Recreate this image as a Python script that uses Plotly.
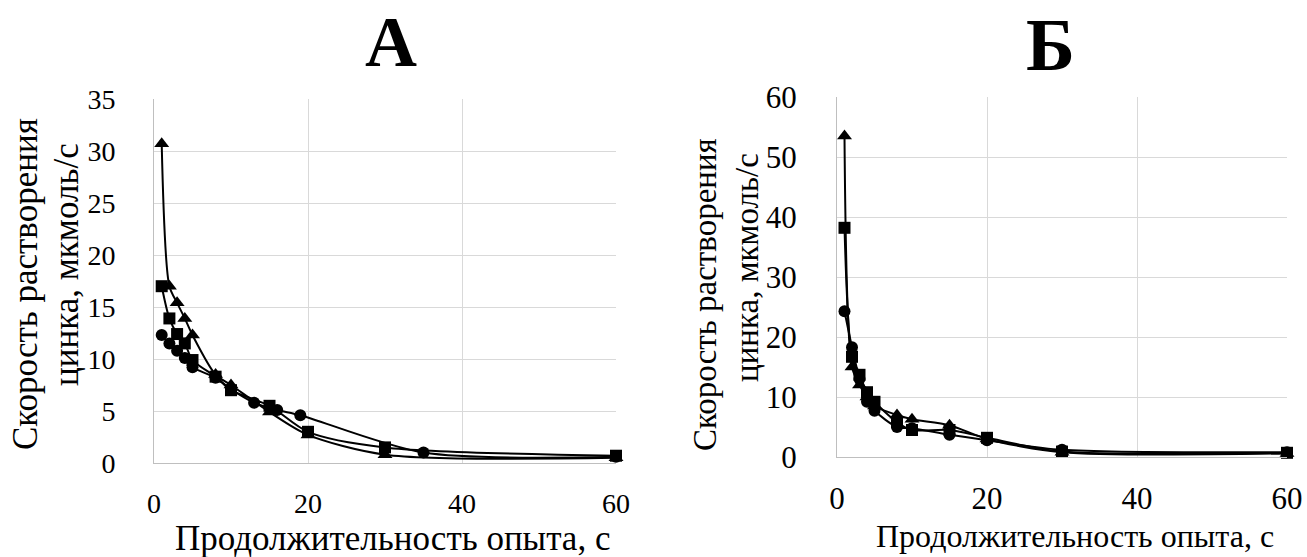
import plotly.graph_objects as go

# ---- Data: panel А ----
a_tri_x = [1, 2, 3, 4, 5, 8, 10, 15, 20, 30, 60]
a_tri_y = [30.7, 17.0, 15.4, 13.9, 12.3, 8.5, 7.5, 4.9, 2.7, 0.8, 0.5]
a_sq_x = [1, 2, 3, 4, 5, 8, 10, 15, 20, 30, 60]
a_sq_y = [17.0, 13.9, 12.4, 11.5, 9.9, 8.3, 7.0, 5.5, 3.0, 1.5, 0.7]
a_ci_x = [1, 2, 3, 4, 5, 8, 10, 13, 16, 19, 35, 60]
a_ci_y = [12.3, 11.5, 10.8, 10.1, 9.2, 8.2, 7.1, 5.8, 5.1, 4.6, 1.0, 0.6]

# ---- Data: panel Б ----
b_tri_x = [1, 2, 3, 4, 5, 8, 10, 15, 20, 30, 60]
b_tri_y = [53.5, 15.0, 12.0, 10.0, 8.5, 7.0, 6.3, 5.3, 3.0, 0.8, 0.6]
b_sq_x = [1, 2, 3, 4, 5, 8, 10, 15, 20, 30, 60]
b_sq_y = [38.2, 16.7, 13.7, 10.8, 9.2, 5.8, 4.5, 4.5, 3.2, 0.9, 0.7]
b_ci_x = [1, 2, 3, 4, 5, 8, 10, 15, 20, 30, 60]
b_ci_y = [24.3, 18.3, 13.0, 9.2, 7.7, 5.0, 4.8, 3.7, 2.8, 1.2, 0.8]

x_ticks = [0, 20, 40, 60]
a_y_ticks = [0, 5, 10, 15, 20, 25, 30, 35]
b_y_ticks = [0, 10, 20, 30, 40, 50, 60]

panel_titles = ["А", "Б"]
x_title = "Продолжительность опыта, с"
y_title_lines = ["Скорость растворения", "цинка, мкмоль/с"]

W, H = 1307, 557
FONT = "Liberation Serif"

fig = go.Figure()

def add_series(x, y, symbol, size, xa, ya):
    fig.add_trace(go.Scatter(
        x=x, y=y, mode="lines+markers",
        line=dict(color="black", width=2, shape="spline", smoothing=0.8),
        marker=dict(symbol=symbol, size=size, color="black"),
        cliponaxis=False, showlegend=False, xaxis=xa, yaxis=ya))

for xa, ya, data in [
    ("x", "y", [(a_ci_x, a_ci_y), (a_sq_x, a_sq_y), (a_tri_x, a_tri_y)]),
    ("x2", "y2", [(b_ci_x, b_ci_y), (b_sq_x, b_sq_y), (b_tri_x, b_tri_y)]),
]:
    (cx, cy), (sx, sy), (tx, ty) = data
    add_series(cx, cy, "circle", 12, xa, ya)
    add_series(sx, sy, "square", 12, xa, ya)
    add_series(tx, ty, "triangle-up", 13, xa, ya)

def px_x(p):
    return p / W

def px_y(p):
    return (H - p) / H

grid = "#d9d9d9"

def axis_style(size):
    return dict(
        showgrid=True, gridcolor=grid, gridwidth=1, automargin=False,
        zeroline=False, showline=True, linecolor="#bfbfbf", linewidth=1,
        ticks="", tickfont=dict(family=FONT, size=size, color="black"),
    )

fig.update_layout(
    template="none",
    width=W, height=H,
    margin=dict(l=0, r=0, t=0, b=0, pad=0),
    paper_bgcolor="white", plot_bgcolor="white",
    font=dict(family=FONT, color="black"),
    xaxis=dict(domain=[px_x(154), px_x(616)], range=[0, 60], tickvals=x_ticks,
               anchor="y", ticklabelstandoff=15, **axis_style(28)),
    yaxis=dict(domain=[px_y(463), px_y(99)], range=[0, 35], tickvals=a_y_ticks,
               anchor="x", ticklabelstandoff=32, **axis_style(28)),
    xaxis2=dict(domain=[px_x(837), px_x(1287)], range=[0, 60], tickvals=x_ticks,
                anchor="y2", ticklabelstandoff=14, **axis_style(31)),
    yaxis2=dict(domain=[px_y(457), px_y(97)], range=[0, 60], tickvals=b_y_ticks,
                anchor="x2", ticklabelstandoff=33, **axis_style(31)),
)

ann = []
# panel titles
ann.append(dict(text="<b>%s</b>" % panel_titles[0], x=px_x(391), y=px_y(42),
                font=dict(family=FONT, size=72, color="black")))
ann.append(dict(text="<b>%s</b>" % panel_titles[1], x=px_x(1050), y=px_y(45),
                font=dict(family=FONT, size=74, color="black")))
# x titles
ann.append(dict(text=x_title, x=px_x(392), y=px_y(538),
                font=dict(family=FONT, size=35, color="black")))
ann.append(dict(text=x_title, x=px_x(1075), y=px_y(536),
                font=dict(family=FONT, size=32, color="black")))
# y titles (two separate lines for tighter line spacing)
ann.append(dict(text=y_title_lines[0], x=px_x(25), y=px_y(284), textangle=-90,
                font=dict(family=FONT, size=35, color="black")))
ann.append(dict(text=y_title_lines[1], x=px_x(66), y=px_y(265), textangle=-90,
                font=dict(family=FONT, size=35, color="black")))
ann.append(dict(text=y_title_lines[0], x=px_x(705), y=px_y(295), textangle=-90,
                font=dict(family=FONT, size=33, color="black")))
ann.append(dict(text=y_title_lines[1], x=px_x(747), y=px_y(268), textangle=-90,
                font=dict(family=FONT, size=33, color="black")))

for a in ann:
    a.update(xref="paper", yref="paper", showarrow=False,
             xanchor="center", yanchor="middle")
fig.update_layout(annotations=ann)

fig.write_html("out.html")
